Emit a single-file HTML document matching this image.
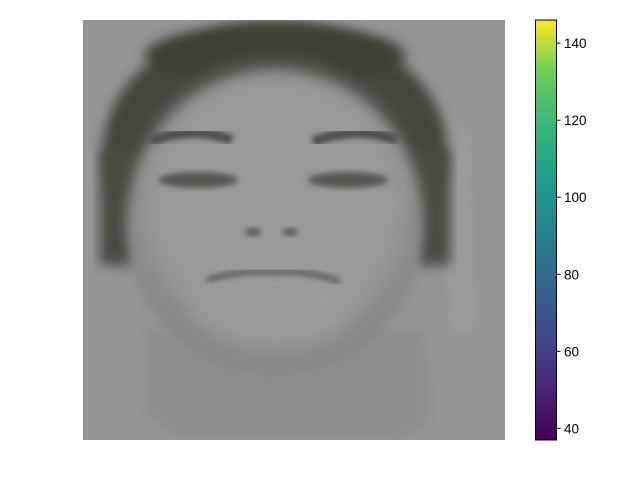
<!DOCTYPE html>
<html><head><meta charset="utf-8"><style>
body{margin:0;background:#fff;width:640px;height:480px;overflow:hidden;font-family:"Liberation Sans","DejaVu Sans",sans-serif}
</style></head><body>
<svg id="chart" width="640" height="480" xmlns="http://www.w3.org/2000/svg">
<defs>
<filter id="b6" x="-20%" y="-20%" width="140%" height="140%"><feGaussianBlur stdDeviation="6"/></filter>
<filter id="b3" x="-20%" y="-20%" width="140%" height="140%"><feGaussianBlur stdDeviation="3"/></filter>
<filter id="b12" x="-30%" y="-30%" width="160%" height="160%"><feGaussianBlur stdDeviation="12"/></filter>
<clipPath id="img"><rect x="83" y="20" width="422" height="420"/></clipPath>
<linearGradient id="viridis" x1="0" y1="1" x2="0" y2="0">
<stop offset="0" stop-color="#440154"/><stop offset="0.13" stop-color="#482878"/><stop offset="0.25" stop-color="#3e4989"/><stop offset="0.38" stop-color="#31688e"/><stop offset="0.5" stop-color="#26828e"/><stop offset="0.63" stop-color="#1f9e89"/><stop offset="0.75" stop-color="#35b779"/><stop offset="0.88" stop-color="#6ece58"/><stop offset="1" stop-color="#fde725"/>
</linearGradient>
</defs>
<g clip-path="url(#img)">
<rect x="83" y="20" width="422" height="420" fill="#959595"/>
<path d="M440,110 L470,130 L475,330 L450,335 Z" fill="#999a98" filter="url(#b3)"/>
<path d="M145,330 L425,330 L428,420 L400,440 L180,440 L145,410 Z" fill="#8c8e8a" filter="url(#b6)"/>
<ellipse cx="275" cy="150" rx="172" ry="128" fill="#3f463a" filter="url(#b6)"/>
<ellipse cx="275" cy="55" rx="130" ry="30" fill="#3b4236" filter="url(#b6)"/>
<rect x="100" y="150" width="35" height="115" fill="#454b40" filter="url(#b6)"/>
<rect x="415" y="150" width="35" height="115" fill="#454b40" filter="url(#b6)"/>
<ellipse cx="275" cy="225" rx="148" ry="150" fill="#868884" filter="url(#b6)"/>
<ellipse cx="275" cy="205" rx="135" ry="135" fill="#999a98" filter="url(#b12)"/>
<ellipse cx="275" cy="300" rx="80" ry="45" fill="#9a9b99" filter="url(#b12)"/>
<path d="M150,142 Q190,125 232,140" stroke="#4a5045" stroke-width="10" fill="none" filter="url(#b3)"/>
<path d="M313,142 Q355,125 397,140" stroke="#4a5045" stroke-width="10" fill="none" filter="url(#b3)"/>
<ellipse cx="198" cy="180" rx="40" ry="8" fill="#545950" filter="url(#b3)"/>
<ellipse cx="348" cy="180" rx="40" ry="8" fill="#545950" filter="url(#b3)"/>
<ellipse cx="253" cy="232" rx="8" ry="4" fill="#5a5f55" filter="url(#b3)"/>
<ellipse cx="290" cy="232" rx="8" ry="4" fill="#5a5f55" filter="url(#b3)"/>
<path d="M207,280 Q240,270 275,272 Q310,270 340,282" stroke="#5d625a" stroke-width="6" fill="none" filter="url(#b3)"/>
</g>
<rect x="535.5" y="20" width="21" height="420" fill="url(#viridis)" stroke="#000" stroke-width="1"/>
<g id="ticks"></g>
<script>
const tickValues=[40,60,80,100,120,140];
const tickLabels=["40","60","80","100","120","140"];
const vmin=37,vmax=146;
function yScale(v){return 440-(v-vmin)/(vmax-vmin)*420;}
const g=document.getElementById('ticks');
const ns='http://www.w3.org/2000/svg';
tickValues.forEach((v,i)=>{
 const y=yScale(v);
 const l=document.createElementNS(ns,'line');
 l.setAttribute('x1',556.5);l.setAttribute('x2',560.5);l.setAttribute('y1',y);l.setAttribute('y2',y);l.setAttribute('stroke','#000');
 
 
 g.appendChild(l);
 const t=document.createElementNS(ns,'text');
 t.setAttribute('x',564);t.setAttribute('y',y+5);t.setAttribute('font-size','13.5');t.setAttribute('fill','#000');
 t.textContent=tickLabels[i];
 
 
 g.appendChild(t);
});
</script>
</svg>
</body></html>
